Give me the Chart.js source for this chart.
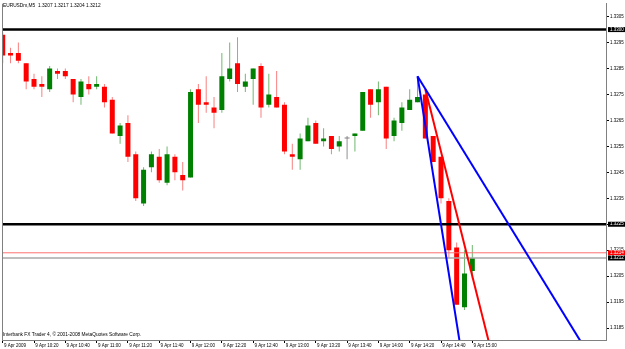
<!DOCTYPE html>
<html>
<head>
<meta charset="utf-8">
<script src="https://cdn.jsdelivr.net/npm/chart.js@4.4.0/dist/chart.umd.min.js"></script>
<style>
html, body { margin: 0; padding: 0; background: #fff; }
#wrap { width: 625px; height: 349px; }
</style>
</head>
<body>
<div id="wrap"><canvas id="mt4" width="625" height="349"></canvas></div>
<script>
// EURUSDm M5 bars, 9 Apr 2009 10:00 .. 15:00
var opens = [1.3298,1.3291,1.3291,1.3287,1.3281,1.3279,1.3277,1.3284,1.3284,1.3281,
  1.3274,1.3279,1.3278,1.3278,1.3273,1.3259,1.3264,1.3252,1.3233,1.3247,
  1.3251,1.3241,1.3251,1.3244,1.3243,1.3277,1.3272,1.3270,1.3269,1.3281,
  1.3287,1.3278,1.3281,1.3286,1.3271,1.3274,1.3271,1.3252,1.3250,1.3257,
  1.3264,1.3257,1.3259,1.3255,1.3258,1.3259,1.3261,1.3277,1.3272,1.3278,
  1.3259,1.3264,1.3269,1.3272,1.3275,1.3259,1.3251,1.3234,1.3216,1.3193,
  1.3207];
var highs = [1.3299,1.3293,1.3295,1.3287,1.3283,1.3282,1.3286,1.3285,1.3285,1.3281,
  1.3281,1.3282,1.3282,1.3279,1.3274,1.3264,1.3267,1.3253,1.3247,1.3253,
  1.3254,1.3255,1.3252,1.3249,1.3277,1.3279,1.3282,1.3274,1.3291,1.3295,
  1.3297,1.3283,1.3285,1.3287,1.3283,1.3284,1.3272,1.3256,1.3260,1.3266,
  1.3265,1.3262,1.3259,1.3259,1.3259,1.3260,1.3276,1.3277,1.3280,1.3278,
  1.3266,1.3272,1.3277,1.3282,1.3277,1.3259,1.3251,1.3235,1.3218,1.3215,
  1.3217];
var lows = [1.3287,1.3287,1.3287,1.3277,1.3277,1.3274,1.3276,1.3281,1.3281,1.3272,
  1.3271,1.3275,1.3277,1.3270,1.3260,1.3256,1.3249,1.3234,1.3232,1.3245,
  1.3241,1.3240,1.3242,1.3238,1.3243,1.3264,1.3268,1.3262,1.3268,1.3280,
  1.3276,1.3276,1.3271,1.3266,1.3270,1.3270,1.3252,1.3246,1.3246,1.3257,
  1.3256,1.3255,1.3252,1.3253,1.3250,1.3253,1.3261,1.3266,1.3267,1.3254,
  1.3257,1.3261,1.3269,1.3272,1.3258,1.3249,1.3233,1.3212,1.3194,1.3192,
  1.3204];
var closes = [1.3290,1.3290,1.3288,1.3280,1.3278,1.3278,1.3285,1.3283,1.3282,1.3275,
  1.3280,1.3277,1.3279,1.3272,1.3260,1.3263,1.3251,1.3235,1.3246,1.3252,
  1.3242,1.3252,1.3245,1.3242,1.3276,1.3271,1.3271,1.3268,1.3282,1.3285,
  1.3279,1.3280,1.3285,1.3270,1.3275,1.3270,1.3253,1.3251,1.3258,1.3263,
  1.3256,1.3258,1.3254,1.3257,1.3258,1.3260,1.3276,1.3271,1.3277,1.3258,
  1.3265,1.3270,1.3273,1.3274,1.3258,1.3249,1.3235,1.3215,1.3194,1.3206,
  1.3212];

var timeLabels = ["9 Apr 2009","9 Apr 10:20","9 Apr 10:40","9 Apr 11:00","9 Apr 11:20",
  "9 Apr 11:40","9 Apr 12:00","9 Apr 12:20","9 Apr 12:40","9 Apr 13:00","9 Apr 13:20",
  "9 Apr 13:40","9 Apr 14:00","9 Apr 14:20","9 Apr 14:40","9 Apr 15:00"];
var priceTicks = [1.3185,1.3195,1.3205,1.3215,1.3225,1.3235,1.3245,1.3255,1.3265,
  1.3275,1.3285,1.3295,1.3305];

// objects drawn on the chart
var blackLevels = [1.3300, 1.3225];
var redLevel = 1.3214;
var bidLevel = 1.3212;
var blueTrendA = [{x: 53, y: 1.3282}, {x: 59, y: 1.3168}];
var blueTrendB = [{x: 53, y: 1.3282}, {x: 75, y: 1.31742}];
var redTrend = [{x: 54, y: 1.3277}, {x: 63, y: 1.3169}];

var chartTitle = "EURUSDm,M5  1.3207 1.3217 1.3204 1.3212";
var copyright = "Interbank FX Trader 4, \u00a9 2001-2008 MetaQuotes Software Corp.";

var xMin = -0.09, xMax = 77.08;
var barsPerLabel = 4;

var wicks = [], bodies = [], bodyColors = [], wickColors = [];
for (var i = 0; i < opens.length; i++) {
  wicks.push({x: i, y: [lows[i], highs[i]]});
  bodies.push({x: i, y: [opens[i], closes[i]]});
  if (closes[i] > opens[i]) { bodyColors.push('#008000'); wickColors.push('#6fb86f'); }
  else if (closes[i] < opens[i]) { bodyColors.push('#ff0000'); wickColors.push('#f78080'); }
  else { bodyColors.push('#808080'); wickColors.push('#909090'); }
}

function hline(v) { return [{x: xMin - 1, y: v}, {x: xMax + 1, y: v}]; }

var datasets = [
  {type: 'line', data: blueTrendA, borderColor: '#0000ff', borderWidth: 2, pointRadius: 0},
  {type: 'line', data: blueTrendB, borderColor: '#0000ff', borderWidth: 2, pointRadius: 0},
  {type: 'line', data: redTrend, borderColor: '#ff0000', borderWidth: 2, pointRadius: 0},
  {type: 'line', data: hline(blackLevels[0]), borderColor: '#000', borderWidth: 2.5, pointRadius: 0},
  {type: 'line', data: hline(blackLevels[1]), borderColor: '#000', borderWidth: 2.5, pointRadius: 0},
  {type: 'line', data: hline(redLevel), borderColor: '#ff7070', borderWidth: 1, pointRadius: 0},
  {type: 'line', data: hline(bidLevel), borderColor: '#a8a8a8', borderWidth: 1.5, pointRadius: 0},
  {type: 'bar', data: bodies, backgroundColor: bodyColors, maxBarThickness: 5, minBarLength: 1, grouped: false},
  {type: 'bar', data: wicks, backgroundColor: wickColors, maxBarThickness: 1, grouped: false}
];

var boxes = [
  {v: blackLevels[0], c: '#000'},
  {v: blackLevels[1], c: '#000'},
  {v: redLevel, c: '#ff0000'},
  {v: bidLevel, c: '#000'}
];

var mtOverlay = {
  id: 'mtOverlay',
  afterDraw: function(chart) {
    var ctx = chart.ctx, area = chart.chartArea, ys = chart.scales.y;
    ctx.save();
    ctx.strokeStyle = '#808080';
    ctx.lineWidth = 1;
    ctx.beginPath();
    ctx.moveTo(area.left + 0.5, area.top);
    ctx.lineTo(area.left + 0.5, area.bottom);
    ctx.stroke();

    ctx.fillStyle = '#000';
    ctx.font = '4.8px "Liberation Sans"';
    ctx.textBaseline = 'middle';
    ctx.textAlign = 'left';
    ctx.fillText(chartTitle, 3, 6);
    ctx.fillText(copyright, 3, 335);

    ctx.font = '4.5px "Liberation Sans"';
    boxes.forEach(function(b) {
      var py = ys.getPixelForValue(b.v);
      ctx.fillStyle = b.c;
      ctx.fillRect(area.right + 2, py - 2.5, 625 - area.right - 2, 5);
      ctx.fillStyle = '#fff';
      ctx.fillText(b.v.toFixed(4), area.right + 4, py);
    });
    ctx.restore();
  }
};

new Chart(document.getElementById('mt4'), {
  type: 'bar',
  data: {datasets: datasets},
  options: {
    responsive: false,
    devicePixelRatio: 1,
    animation: false,
    events: [],
    layout: {padding: {top: 1, left: 2, right: 0, bottom: 0}},
    plugins: {legend: {display: false}, tooltip: {enabled: false}},
    scales: {
      x: {
        type: 'linear',
        min: xMin,
        max: xMax,
        offset: false,
        afterBuildTicks: function(s) {
          s.ticks = timeLabels.map(function(t, k) { return {value: k * barsPerLabel}; });
        },
        afterFit: function(s) { s.height = 9; },
        grid: {drawOnChartArea: false, offset: false, tickLength: 3, color: '#000'},
        border: {color: '#808080'},
        ticks: {
          autoSkip: false, maxRotation: 0, align: 'start', padding: 0, color: '#000',
          font: {family: 'Liberation Sans', size: 4.5},
          callback: function(v) { return ' ' + timeLabels[Math.round(v / barsPerLabel)]; }
        }
      },
      y: {
        type: 'linear',
        position: 'right',
        min: 1.318041,
        max: 1.330997,
        afterBuildTicks: function(s) {
          s.ticks = priceTicks.map(function(v) { return {value: v}; });
        },
        afterFit: function(s) { s.width = 19; },
        grid: {drawOnChartArea: false, tickLength: 3, color: '#000'},
        border: {color: '#808080'},
        ticks: {
          padding: 1, color: '#000',
          font: {family: 'Liberation Sans', size: 4.5},
          callback: function(v) { return v.toFixed(4); }
        }
      }
    }
  },
  plugins: [mtOverlay]
});
</script>
</body>
</html>
